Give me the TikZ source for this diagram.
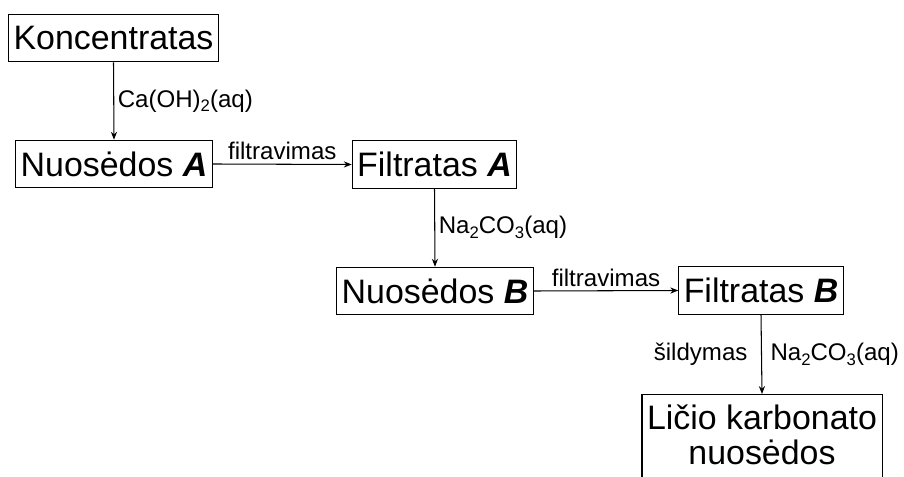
\documentclass[tikz,border=0pt]{standalone}
\usepackage{fontspec}
\setmainfont{Liberation Sans}
\usetikzlibrary{arrows.meta}

\newcommand{\chemsub}[1]{\raisebox{-0.35ex}{\fontsize{9.5}{10}\selectfont #1}}

\tikzset{
    stage/.style={draw, line width=0.6pt, inner xsep=0.1cm, minimum height=0.95cm,
        font=\fontsize{19.3}{20}\selectfont},
    lbl/.style={font=\fontsize{13.7}{15}\selectfont, inner sep=2pt},
    flow/.style={line width=0.6pt, -{Stealth[length=4.5pt, width=3.5pt]}}
}

\begin{document}
\begin{tikzpicture}
    \useasboundingbox (0,0) rectangle (18.08,-9.54);
    \node[stage] (konc) at (2.27,-0.76) {Koncentratas};
    \node[stage] (nuoA) at (2.28,-3.28) {Nuosėdos \textbf{\textit{A}}};
    \node[stage] (filA) at (8.69,-3.29) {Filtratas \textbf{\textit{A}}};
    \node[stage] (nuoB) at (8.70,-5.82) {Nuosėdos \textbf{\textit{B}}};
    \node[stage] (filB) at (15.22,-5.81) {Filtratas \textbf{\textit{B}}};
    % bottom edge of this box runs off the page
    \node[stage, anchor=north, align=center, inner ysep=0.2cm, text depth=0.35cm] (licio) at (15.24,-7.88) {Ličio karbonato\\nuosėdos};

    \draw[flow] (konc.south) -- (nuoA.north) node[lbl, midway, right] {Ca(OH)\chemsub{2}(aq)};
    \draw[flow] (nuoA.east) -- (filA.west) node[lbl, midway, above] {filtravimas};
    \draw[flow] (filA.south) -- (nuoB.north) node[lbl, midway, right] {Na\chemsub{2}CO\chemsub{3}(aq)};
    \draw[flow] (nuoB.east) -- (filB.west) node[lbl, midway, above] {filtravimas};
    \draw[flow] (filB.south) -- (licio.north)
        node[lbl, midway, left, xshift=-0.2cm] {šildymas}
        node[lbl, midway, right, xshift=0.1cm] {Na\chemsub{2}CO\chemsub{3}(aq)};
\end{tikzpicture}
\end{document}
